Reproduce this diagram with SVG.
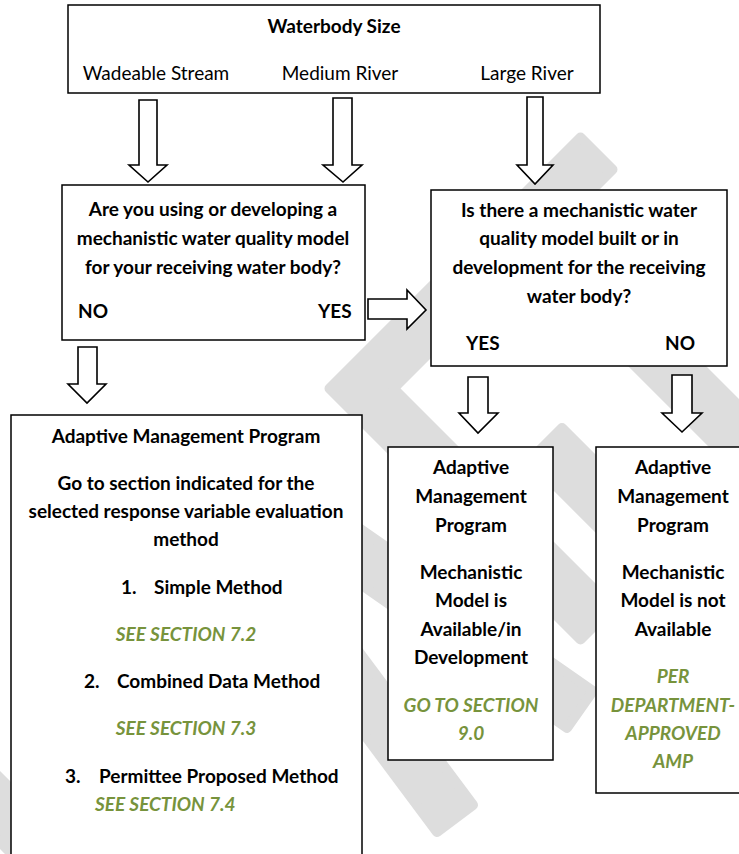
<svg xmlns="http://www.w3.org/2000/svg" width="739" height="854" viewBox="0 0 739 854">
<style>
.wm { fill:#dddddd; stroke:#dddddd; stroke-width:10; stroke-linejoin:round; }
.box { fill:#ffffff; stroke:#000000; stroke-width:1.5; }
.arrow { fill:#ffffff; stroke:#000000; stroke-width:1.6; stroke-linejoin:miter; }
text { font-family: Lato, "Open Sans", "Liberation Sans", sans-serif; font-size:19px; fill:#000000; }
.b { font-weight:bold; }
.c { text-anchor:middle; }
.g { fill:#77933c; font-weight:bold; font-style:italic; }
</style>
<rect x="0" y="0" width="739" height="854" fill="#ffffff"/>
<g id="watermark">
  <polygon class="wm" points="580.5,137.5 612.5,169.5 393.5,388.5 612.5,607.5 580.5,639.5 329.5,388.5"/>
  <polygon class="wm" points="562,428 796,662 764,694 530,460"/>
  <polygon class="wm" points="616,283 836,503 804,535 584,315"/>
  <polygon class="wm" points="313,496 593,691 567,728 287,533"/>
  <polygon class="wm" points="318,597 473,805 437,832 282,624"/>
  <polygon class="wm" points="-44,734 76,854 44,886 -76,766"/>
</g>
<g id="connectors">
  <polygon class="arrow" points="139,100 157,100 157,165 167,165 148,182 129,165 139,165"/>
  <polygon class="arrow" points="333,98 352,98 352,165 362,165 343,182 323,165 333,165"/>
  <polygon class="arrow" points="527,97 543,97 543,165 553,165 535,184 517,165 527,165"/>
  <polygon class="arrow" points="78,347 97,347 97,384 106,384 87,403 68,384 78,384"/>
  <polygon class="arrow" points="368,299 407,299 407,290 426,310 407,329 407,319 368,319"/>
  <polygon class="arrow" points="468,377 488,377 488,413 498,413 478,433 459,413 468,413"/>
  <polygon class="arrow" points="672,375 692,375 692,413 702,413 682,432 662,413 672,413"/>
</g>
<g id="waterbody-size">
  <rect class="box" x="68" y="5" width="532" height="88"/>
  <text class="b c" x="334" y="33">Waterbody Size</text>
  <text class="c" x="156" y="80">Wadeable Stream</text>
  <text class="c" x="340" y="80">Medium River</text>
  <text class="c" x="527" y="80">Large River</text>
</g>
<g id="question-model-use">
  <rect class="box" x="62" y="185" width="303" height="155"/>
  <text class="b c" x="213" y="216">Are you using or developing a</text>
  <text class="b c" x="213" y="245">mechanistic water quality model</text>
  <text class="b c" x="213" y="274">for your receiving water body?</text>
  <text class="b" x="78" y="318">NO</text>
  <text class="b" x="318" y="318">YES</text>
</g>
<g id="question-model-exists">
  <rect class="box" x="431" y="190" width="296" height="176"/>
  <text class="b c" x="579" y="217">Is there a mechanistic water</text>
  <text class="b c" x="579" y="245">quality model built or in</text>
  <text class="b c" x="579" y="274">development for the receiving</text>
  <text class="b c" x="579" y="303">water body?</text>
  <text class="b" x="466" y="350">YES</text>
  <text class="b" x="665" y="350">NO</text>
</g>
<g id="amp-methods">
  <rect class="box" x="11" y="415" width="351" height="450"/>
  <text class="b c" x="186" y="443">Adaptive Management Program</text>
  <text class="b c" x="186" y="490">Go to section indicated for the</text>
  <text class="b c" x="186" y="518">selected response variable evaluation</text>
  <text class="b c" x="186" y="546">method</text>
  <text class="b" x="121" y="594">1.</text>
  <text class="b" x="154" y="594">Simple Method</text>
  <text class="g c" x="186" y="641">SEE SECTION 7.2</text>
  <text class="b" x="84" y="688">2.</text>
  <text class="b" x="117" y="688">Combined Data Method</text>
  <text class="g c" x="186" y="735">SEE SECTION 7.3</text>
  <text class="b" x="65" y="783">3.</text>
  <text class="b" x="99" y="783">Permittee Proposed Method</text>
  <text class="g" x="95" y="811">SEE SECTION 7.4</text>
</g>
<g id="amp-model-available">
  <rect class="box" x="388" y="447" width="165" height="313"/>
  <text class="b c" x="471" y="474">Adaptive</text>
  <text class="b c" x="471" y="503">Management</text>
  <text class="b c" x="471" y="532">Program</text>
  <text class="b c" x="471" y="579">Mechanistic</text>
  <text class="b c" x="471" y="607">Model is</text>
  <text class="b c" x="471" y="636">Available/in</text>
  <text class="b c" x="471" y="664">Development</text>
  <text class="g c" x="471" y="712">GO TO SECTION</text>
  <text class="g c" x="471" y="740">9.0</text>
</g>
<g id="amp-model-not-available">
  <rect class="box" x="596" y="447" width="160" height="346"/>
  <text class="b c" x="673" y="474">Adaptive</text>
  <text class="b c" x="673" y="503">Management</text>
  <text class="b c" x="673" y="532">Program</text>
  <text class="b c" x="673" y="579">Mechanistic</text>
  <text class="b c" x="673" y="607">Model is not</text>
  <text class="b c" x="673" y="636">Available</text>
  <text class="g c" x="673" y="683">PER</text>
  <text class="g c" x="673" y="712">DEPARTMENT-</text>
  <text class="g c" x="673" y="740">APPROVED</text>
  <text class="g c" x="673" y="768">AMP</text>
</g>
</svg>
